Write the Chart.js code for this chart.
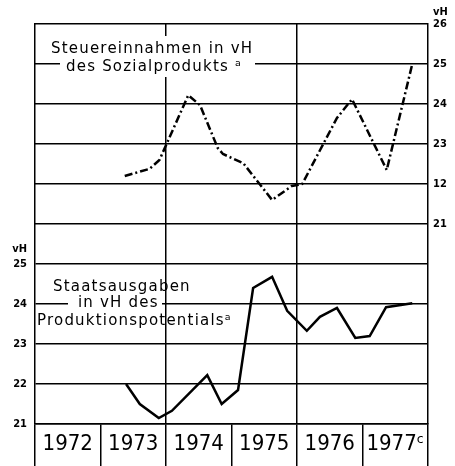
<!DOCTYPE html>
<html>
<head>
<meta charset="utf-8">
<script src="https://cdn.jsdelivr.net/npm/chart.js@4"></script>
<style>
  body { margin: 0; background: #fff; }
  #wrap { width: 455px; height: 466px; }
</style>
</head>
<body>
<div id="wrap"><canvas id="chart"></canvas></div>
<script>
// Steuereinnahmen in vH des Sozialprodukts (dash-dot, right axis)
var upperX = [1973.37, 1973.75, 1973.9, 1974.34, 1974.52, 1974.79, 1974.87, 1975.18, 1975.62, 1975.92, 1976.08, 1976.61, 1976.84, 1977.37, 1977.76];
var upperY = [22.2, 22.38, 22.6, 24.22, 23.97, 22.9, 22.75, 22.52, 21.6, 21.95, 22.0, 23.65, 24.12, 22.35, 25.0];

// Staatsausgaben in vH des Produktionspotentials (solid, left axis)
var lowerX = [1973.39, 1973.6, 1973.89, 1974.09, 1974.63, 1974.85, 1975.1, 1975.33, 1975.62, 1975.85, 1976.15, 1976.35, 1976.61, 1976.89, 1977.11, 1977.36, 1977.76];
var lowerY = [22.0, 21.5, 21.15, 21.33, 22.22, 21.5, 21.85, 24.4, 24.68, 23.83, 23.33, 23.68, 23.9, 23.15, 23.2, 23.92, 24.02];

var yearTicks = [1972.5, 1973.5, 1974.5, 1975.5, 1976.5, 1977.5];
var yearLabels = ['1972', '1973', '1974', '1975', '1976', '1977\u1D9C'];
var verticalGridYears = [1974, 1976];

var upperTicks = [21, 22, 23, 24, 25, 26];
var upperTickLabels = ['21', '12', '23', '24', '25', '26'];
var lowerTicks = [21, 22, 23, 24, 25];
var lowerTickLabels = ['21', '22', '23', '24', '25'];

const tickFont = { family: "'DejaVu Sans Condensed', 'DejaVu Sans', sans-serif", size: 11, weight: 'bold' };

// labels drawn on the chart: panel titles and the "vH" unit marks
const labelPlugin = {
    id: 'labels',
    afterDraw(chart) {
        const ctx = chart.ctx;
        const yU = chart.scales.yU;
        const yL = chart.scales.yL;
        ctx.save();
        ctx.fillStyle = '#fff';
        ctx.fillRect(60, 36, 195, 41);
        ctx.fillRect(68, 298, 94, 13);

        ctx.fillStyle = '#000';
        ctx.font = "15px 'DejaVu Sans', sans-serif";
        ctx.letterSpacing = '1.2px';
        ctx.textAlign = 'left';
        ctx.textBaseline = 'alphabetic';
        ctx.fillText('Steuereinnahmen in vH', 51, 53);
        ctx.fillText('des Sozialprodukts \u1D43', 66, 71);
        ctx.fillText('Staatsausgaben', 53, 291);
        ctx.fillText('in vH des', 78, 307);
        ctx.fillText('Produktionspotentials\u1D43', 37, 325);

        ctx.letterSpacing = '0px';
        ctx.font = "bold 11px 'DejaVu Sans Condensed', 'DejaVu Sans', sans-serif";
        ctx.textBaseline = 'middle';
        ctx.textAlign = 'left';
        ctx.fillText('vH', 433, yU.getPixelForValue(26) - 12);
        ctx.textAlign = 'right';
        ctx.fillText('vH', 27, yL.getPixelForValue(25) - 15);
        ctx.restore();
    }
};

new Chart(document.getElementById('chart'), {
    type: 'line',
    data: {
        datasets: [{
            label: 'Steuereinnahmen in vH des Sozialprodukts',
            data: upperX.map((x, i) => ({ x: x, y: upperY[i] })),
            xAxisID: 'x',
            yAxisID: 'yU',
            borderColor: '#000',
            borderWidth: 2.5,
            borderDash: [8, 3, 2, 3],
            pointRadius: 0,
            tension: 0,
            fill: false
        }, {
            label: 'Staatsausgaben in vH des Produktionspotentials',
            data: lowerX.map((x, i) => ({ x: x, y: lowerY[i] })),
            xAxisID: 'x',
            yAxisID: 'yL',
            borderColor: '#000',
            borderWidth: 2.5,
            pointRadius: 0,
            tension: 0,
            fill: false
        }]
    },
    options: {
        responsive: true,
        maintainAspectRatio: false,
        animation: false,
        layout: { padding: { top: 24, left: 0, right: 0, bottom: 0 } },
        plugins: {
            legend: { display: false },
            tooltip: { enabled: false }
        },
        scales: {
            x: {
                type: 'linear',
                position: 'bottom',
                min: 1972,
                max: 1978,
                afterBuildTicks: axis => { axis.ticks = yearTicks.map(v => ({ value: v })); },
                afterFit: axis => { axis.height = 42; },
                grid: {
                    offset: true,
                    drawOnChartArea: false,
                    tickLength: 42,
                    color: '#000',
                    lineWidth: 1.5
                },
                border: { display: true, color: '#000', width: 1.5 },
                ticks: {
                    autoSkip: false,
                    maxRotation: 0,
                    padding: -35,
                    color: '#000',
                    font: { family: "'Liberation Sans Narrow', 'DejaVu Sans Condensed', sans-serif", size: 22 },
                    callback: (v, i) => yearLabels[i]
                }
            },
            x2: {
                type: 'linear',
                position: 'top',
                min: 1972,
                max: 1978,
                afterBuildTicks: axis => { axis.ticks = verticalGridYears.map(v => ({ value: v })); },
                afterFit: axis => { axis.height = 0; },
                grid: { drawTicks: false, color: '#000', lineWidth: 1.5 },
                border: { display: false },
                ticks: { display: false }
            },
            yU: {
                type: 'linear',
                position: 'right',
                min: 16,
                max: 26,
                afterBuildTicks: axis => { axis.ticks = upperTicks.map(v => ({ value: v })); },
                afterFit: axis => { axis.width = 27; },
                grid: { drawTicks: false, color: '#000', lineWidth: 1.5 },
                border: { display: true, color: '#000', width: 1.5 },
                ticks: {
                    padding: 5,
                    color: '#000',
                    font: tickFont,
                    callback: (v, i) => upperTickLabels[i]
                }
            },
            yL: {
                type: 'linear',
                position: 'left',
                min: 21,
                max: 31,
                afterBuildTicks: axis => { axis.ticks = lowerTicks.map(v => ({ value: v })); },
                afterFit: axis => { axis.width = 35; },
                grid: { drawTicks: false, color: '#000', lineWidth: 1.5 },
                border: { display: true, color: '#000', width: 1.5 },
                ticks: {
                    padding: 8,
                    color: '#000',
                    font: tickFont,
                    callback: (v, i) => lowerTickLabels[i]
                }
            }
        }
    },
    plugins: [labelPlugin]
});
</script>
</body>
</html>
